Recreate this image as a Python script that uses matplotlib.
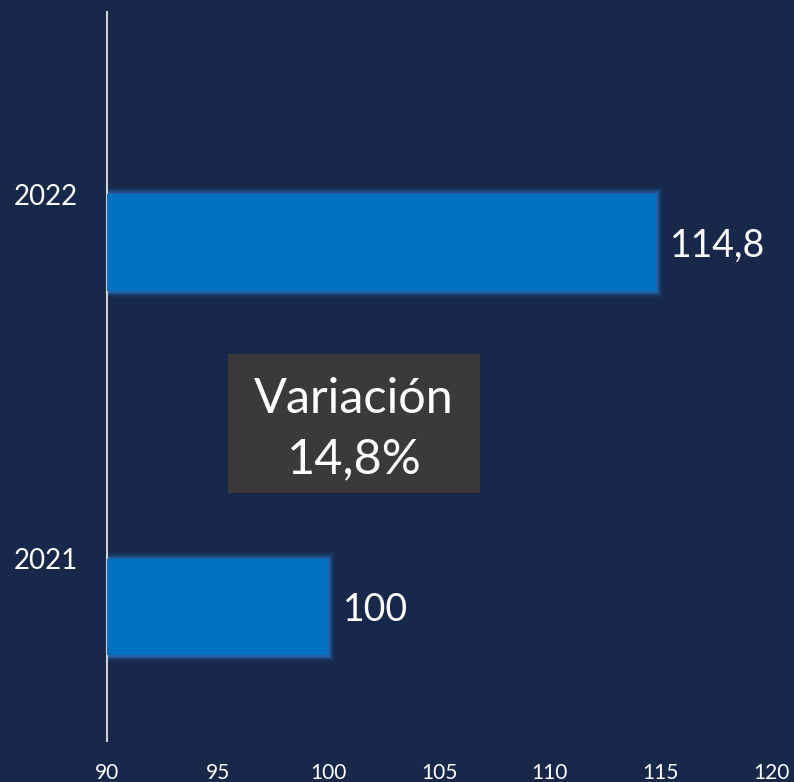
import matplotlib.pyplot as plt
from matplotlib.patches import Rectangle

years = ["2021", "2022"]
values = [100, 114.8]
x_ticks = [90, 95, 100, 105, 110, 115, 120]

BG = "#17284a"
BAR = "#0070c0"
BOX = "#3b3a39"

plt.rcParams["font.family"] = ["Lato", "DejaVu Sans"]

fig = plt.figure(figsize=(7.94, 7.82), dpi=100, facecolor=BG)
ax = fig.add_axes([0.1348, 0.0524, 0.8365, 0.9322])
ax.set_facecolor(BG)

y = list(range(len(years)))
bar_h = -0.265

# soft glow around the bars
for lw, a in [(10, 0.08), (7, 0.14), (4.5, 0.22), (2.5, 0.35)]:
    ax.barh(y, values, height=bar_h, align="edge", color="none",
            edgecolor="#2e8ae0", linewidth=lw, alpha=a, zorder=2)
ax.barh(y, values, height=bar_h, align="edge", color=BAR, zorder=3)

for yi, v in zip(y, values):
    label = f"{v:g}".replace(".", ",")
    ax.text(v + 0.65, yi + bar_h / 2 - 0.008, label, color="white",
            fontsize=27, va="center", ha="left", zorder=4)

# variation box
var = (values[1] / values[0] - 1) * 100
ax.add_patch(Rectangle((95.47, 0.181), 11.38, 0.381, facecolor=BOX,
                       edgecolor="none", zorder=4))
ax.text(101.16, 0.356, "Variación\n" + f"{var:.1f}%".replace(".", ","),
        color="white", fontsize=35, ha="center", va="center",
        linespacing=1.45, zorder=5)

ax.set_xlim(90, 120)
ax.set_ylim(-0.5, 1.5)
ax.set_xticks(x_ticks)
ax.set_xticklabels([str(t) for t in x_ticks], color="white", fontsize=15)
ax.set_yticks(y)
ax.set_yticklabels(years, color="white", fontsize=20)
ax.tick_params(length=0)
ax.tick_params(axis="x", pad=16)
ax.tick_params(axis="y", pad=21)

for s in ["top", "right", "bottom"]:
    ax.spines[s].set_visible(False)
ax.spines["left"].set_color("#d0d0d0")
ax.spines["left"].set_linewidth(1.5)

fig.savefig("out.png", dpi=100, facecolor=BG)
